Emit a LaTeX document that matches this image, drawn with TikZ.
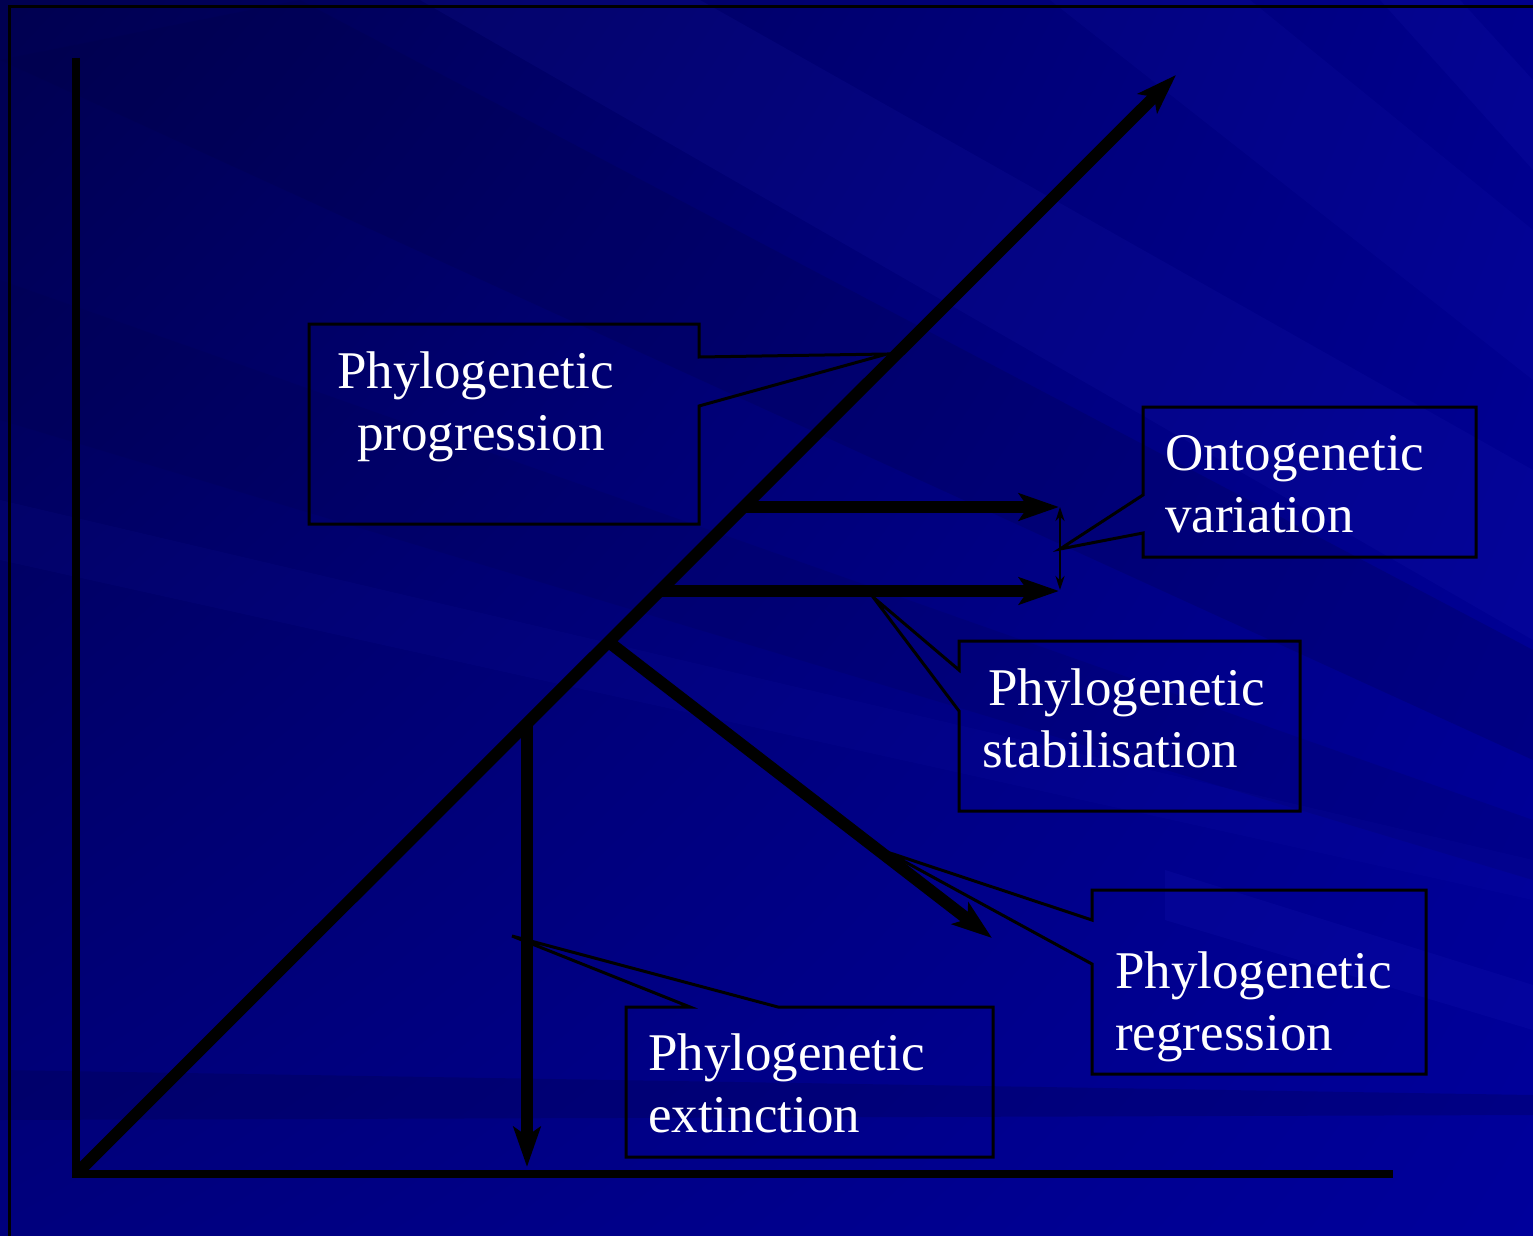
\documentclass[tikz,border=0pt]{standalone}
\usepackage{fontspec}
\setmainfont{Liberation Serif}
\usetikzlibrary{arrows.meta,shadings}
\definecolor{bgA}{RGB}{0,0,80}
\definecolor{bgB}{RGB}{0,0,140}
\definecolor{bgC}{RGB}{0,0,125}
\definecolor{bgD}{RGB}{0,0,155}
\definecolor{streakL}{RGB}{40,40,200}
\definecolor{streakD}{RGB}{0,0,70}
\tikzset{
  bigarrow/.style={line width=12pt,-{Stealth[length=40pt,width=27pt,inset=9pt]}},
  axisline/.style={line width=8.5pt},
  callout/.style={draw=black,line width=3pt,line join=miter},
  lbl/.style={text=white,font=\fontsize{53}{63}\selectfont,inner sep=0pt,anchor=base west},
  thinarrow/.style={line width=2.5pt,{Stealth[length=14pt,width=9pt]}-{Stealth[length=14pt,width=9pt]}}
}
\begin{document}
\begin{tikzpicture}[x=1pt,y=-1pt]
\useasboundingbox (0,0) rectangle (1533,1236);
% background
\shade[upper left=bgA,upper right=bgB,lower left=bgC,lower right=bgD] (0,0) rectangle (1533,1236);
\begin{scope}
\clip (0,0) rectangle (1533,1236);
\fill[streakL,opacity=0.10] (420,0) -- (700,0) -- (1533,470) -- (1533,640) -- cycle;
\fill[streakL,opacity=0.09] (1050,0) -- (1250,0) -- (1533,230) -- (1533,380) -- cycle;
\fill[streakL,opacity=0.10] (1380,0) -- (1460,0) -- (1533,80) -- (1533,170) -- cycle;
\fill[streakD,opacity=0.22] (0,60) -- (300,0) -- (1533,650) -- (1533,760) -- cycle;
\fill[streakD,opacity=0.15] (0,280) -- (0,420) -- (1533,880) -- (1533,820) -- cycle;
\fill[streakL,opacity=0.07] (0,500) -- (0,560) -- (1533,900) -- (1533,860) -- cycle;
\fill[streakL,opacity=0.12] (1165,870) -- (1533,985) -- (1533,1030) -- (1165,920) -- cycle;
\fill[streakD,opacity=0.25] (0,1070) -- (1533,1095) -- (1533,1115) -- (0,1120) -- cycle;
\end{scope}
% frame
\draw[line width=3pt] (9,1240) -- (9,7) -- (1540,7);
% coordinates
\coordinate (yTop) at (76,58);
\coordinate (yBot) at (76,1178);
\coordinate (xStart) at (72,1174);
\coordinate (xEnd) at (1393,1174);
\coordinate (dStart) at (80,1170);
\coordinate (dEnd) at (1176,75);
\coordinate (h1s) at (745,507);
\coordinate (h1e) at (1059,507);
\coordinate (h2s) at (660,591);
\coordinate (h2e) at (1059,591);
\coordinate (rs) at (610,643);
\coordinate (re) at (992,938);
\coordinate (es) at (527,725);
\coordinate (ee) at (527,1167);
\coordinate (va) at (1060,507);
\coordinate (vb) at (1060,590);
% axes
\draw[axisline] (yTop) -- (yBot);
\draw[axisline] (xStart) -- (xEnd);
% arrows
\draw[bigarrow] (dStart) -- (dEnd);
\draw[bigarrow] (h1s) -- (h1e);
\draw[bigarrow] (h2s) -- (h2e);
\draw[bigarrow] (rs) -- (re);
\draw[bigarrow] (es) -- (ee);
\draw[thinarrow] (va) -- (vb);
% callouts
\draw[callout] (309,324) -- (699,324) -- (699,357) -- (887,354) -- (699,406) -- (699,524) -- (309,524) -- cycle;
\draw[callout] (1143,407) -- (1476,407) -- (1476,557) -- (1143,557) -- (1143,533) -- (1060,549) -- (1143,495) -- cycle;
\draw[callout] (959,641) -- (1300,641) -- (1300,811) -- (959,811) -- (959,711) -- (873,597) -- (959,670) -- cycle;
\draw[callout] (1092,890) -- (1426,890) -- (1426,1074) -- (1092,1074) -- (1092,964) -- (887,852) -- (1092,920) -- cycle;
\draw[callout] (626,1007) -- (690,1007) -- (512,936) -- (778,1007) -- (993,1007) -- (993,1157) -- (626,1157) -- cycle;
% labels
\node[lbl] (p1) at (337,388) {Phylogenetic};
\node[lbl] (p2) at (357,450) {progression};
\node[lbl] (o1) at (1165,470) {Ontogenetic};
\node[lbl] (o2) at (1165,532) {variation};
\node[lbl] (s1) at (988,705) {Phylogenetic};
\node[lbl] (s2) at (982,767) {stabilisation};
\node[lbl] (r1) at (1115,988) {Phylogenetic};
\node[lbl] (r2) at (1115,1050) {regression};
\node[lbl] (e1) at (648,1070) {Phylogenetic};
\node[lbl] (e2) at (648,1132) {extinction};
\end{tikzpicture}
\end{document}
